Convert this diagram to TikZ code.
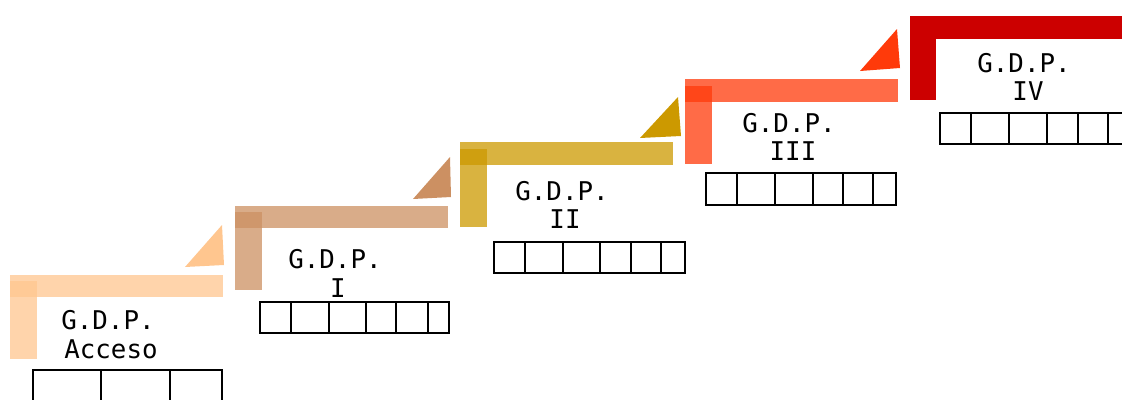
\documentclass[tikz,border=0pt]{standalone}
\usepackage{fontspec}
\setmonofont{DejaVu Sans Mono}
\definecolor{cA}{HTML}{FFC68F}
\definecolor{cI}{HTML}{CC9062}
\definecolor{cII}{HTML}{CC9900}
\definecolor{cIII}{HTML}{FF3A0A}
\definecolor{cIV}{HTML}{CC0000}
\tikzset{
  bar/.style={fill=#1, fill opacity=0.75, draw=none},
  tri/.style={fill=#1, draw=none},
  lbl/.style={font=\ttfamily\fontsize{25.8}{26}\selectfont, anchor=base, inner sep=0pt},
  cellrow/.style={draw=black, line width=2.3pt, line join=miter}
}
\begin{document}
\begin{tikzpicture}[x=1pt,y=-1pt]
\useasboundingbox (0,0) rectangle (1122,399);
% Acceso
\fill[bar=cA] (10,275) rectangle (223,297);
\fill[bar=cA] (10,281) rectangle (37,359);
\fill[tri=cA] (185,267) -- (222,225) -- (224,265) -- cycle;
\node[lbl] (tA1) at (108,329) {G.D.P.};
\node[lbl] (tA2) at (111,358) {Acceso};
\draw[cellrow] (33,402) |- (222,370) -- (222,402);
\foreach \x in {101,170} \draw[cellrow] (\x,370) -- (\x,402);
% I
\fill[bar=cI] (235,206) rectangle (448,228);
\fill[bar=cI] (235,212) rectangle (262,290);
\fill[tri=cI] (413,199) -- (450,157) -- (451,197) -- cycle;
\node[lbl] (tI1) at (335,268) {G.D.P.};
\node[lbl] (tI2) at (338,297) {I};
\draw[cellrow] (260,302) rectangle (449,333);
\foreach \x in {291,329,366,396,428} \draw[cellrow] (\x,302) -- (\x,333);
% II
\fill[bar=cII] (460,142) rectangle (673,165);
\fill[bar=cII] (460,149) rectangle (487,227);
\fill[tri=cII] (640,138) -- (678,97) -- (681,136) -- cycle;
\node[lbl] (tII1) at (562,200) {G.D.P.};
\node[lbl] (tII2) at (565,228) {II};
\draw[cellrow] (494,242) rectangle (685,273);
\foreach \x in {525,563,600,631,661} \draw[cellrow] (\x,242) -- (\x,273);
% III
\fill[bar=cIII] (685,79) rectangle (898,102);
\fill[bar=cIII] (685,86) rectangle (712,164);
\fill[tri=cIII] (860,71) -- (897,29) -- (900,68) -- cycle;
\node[lbl] (tIII1) at (789,132) {G.D.P.};
\node[lbl] (tIII2) at (793,160) {III};
\draw[cellrow] (706,173) rectangle (896,205);
\foreach \x in {737,775,813,843,873} \draw[cellrow] (\x,173) -- (\x,205);
% IV
\fill[cIV] (910,16) rectangle (1124,39);
\fill[cIV] (910,16) rectangle (936,100);
\node[lbl] (tIV1) at (1024,72) {G.D.P.};
\node[lbl] (tIV2) at (1028,100) {IV};
\draw[cellrow] (1125,113) -| (940,144) -- (1125,144);
\foreach \x in {971,1009,1047,1078,1108} \draw[cellrow] (\x,113) -- (\x,144);
\end{tikzpicture}
\end{document}
